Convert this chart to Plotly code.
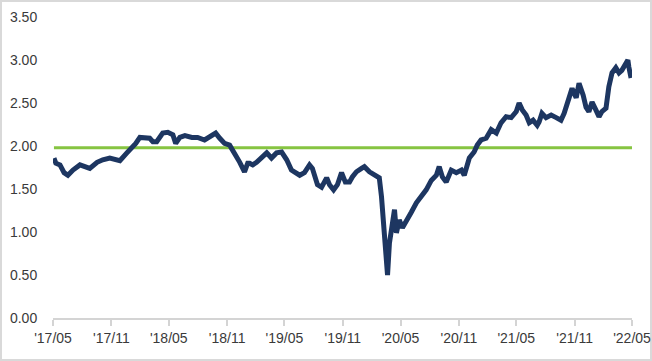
import plotly.graph_objects as go

dates = [
    "2017-05-04", "2017-05-10", "2017-05-23", "2017-06-05", "2017-06-17", "2017-07-03",
    "2017-07-25", "2017-08-10", "2017-08-25", "2017-09-17", "2017-10-05", "2017-10-27",
    "2017-11-12", "2017-11-28", "2017-12-20", "2018-01-05", "2018-01-17", "2018-01-30",
    "2018-02-15", "2018-03-02", "2018-03-12", "2018-03-24", "2018-04-12", "2018-04-28",
    "2018-05-14", "2018-05-23", "2018-06-05", "2018-06-21", "2018-07-13", "2018-07-31",
    "2018-08-22", "2018-09-07", "2018-09-26", "2018-10-09", "2018-10-24", "2018-11-09",
    "2018-11-25", "2018-12-11", "2018-12-26", "2019-01-05", "2019-01-11", "2019-01-21",
    "2019-02-02", "2019-02-18", "2019-03-06", "2019-03-21", "2019-04-06", "2019-04-22",
    "2019-05-08", "2019-05-23", "2019-06-08", "2019-06-18", "2019-07-03", "2019-07-19",
    "2019-07-28", "2019-08-13", "2019-08-26", "2019-09-11", "2019-09-20", "2019-10-03",
    "2019-10-15", "2019-10-28", "2019-11-09", "2019-11-22", "2019-12-01", "2019-12-14",
    "2019-12-30", "2020-01-08", "2020-01-24", "2020-02-09", "2020-02-24", "2020-03-02",
    "2020-03-08", "2020-03-14", "2020-03-17", "2020-03-21", "2020-03-27", "2020-04-02",
    "2020-04-12", "2020-04-18", "2020-04-27", "2020-05-07", "2020-05-19", "2020-06-04",
    "2020-06-20", "2020-07-06", "2020-07-21", "2020-08-06", "2020-08-22", "2020-08-31",
    "2020-09-10", "2020-09-22", "2020-10-08", "2020-10-24", "2020-11-09", "2020-11-18",
    "2020-12-04", "2020-12-19", "2020-12-29", "2021-01-10", "2021-01-26", "2021-02-11",
    "2021-02-27", "2021-03-14", "2021-03-30", "2021-04-15", "2021-05-01", "2021-05-10",
    "2021-05-20", "2021-06-01", "2021-06-11", "2021-06-23", "2021-07-06", "2021-07-12",
    "2021-07-21", "2021-08-03", "2021-08-19", "2021-09-04", "2021-09-19", "2021-09-29",
    "2021-10-15", "2021-10-24", "2021-11-06", "2021-11-15", "2021-11-28", "2021-12-07",
    "2021-12-16", "2021-12-26", "2022-01-07", "2022-01-17", "2022-01-26", "2022-02-08",
    "2022-02-17", "2022-02-27", "2022-03-11", "2022-03-21", "2022-03-30", "2022-04-12",
    "2022-04-18", "2022-04-21", "2022-04-28",
]
values = [
    1.86, 1.80, 1.78, 1.69, 1.66, 1.72,
    1.78, 1.76, 1.74, 1.81, 1.84, 1.86,
    1.84, 1.83, 1.92, 1.98, 2.03, 2.10,
    2.09, 2.09, 2.05, 2.05, 2.15, 2.16,
    2.13, 2.03, 2.10, 2.12, 2.10, 2.10,
    2.07, 2.10, 2.15, 2.09, 2.03, 2.01,
    1.92, 1.81, 1.70, 1.80, 1.80, 1.78,
    1.81, 1.87, 1.92, 1.86, 1.92, 1.93,
    1.84, 1.72, 1.69, 1.66, 1.69, 1.78,
    1.74, 1.55, 1.52, 1.63, 1.55, 1.49,
    1.55, 1.69, 1.58, 1.58, 1.64, 1.70,
    1.74, 1.76, 1.70, 1.66, 1.63, 1.41,
    1.10, 0.91, 0.67, 0.50, 0.87, 1.02,
    1.26, 0.99, 1.14, 1.05, 1.12, 1.23,
    1.34, 1.41, 1.49, 1.60, 1.66, 1.76,
    1.64, 1.58, 1.72, 1.69, 1.72, 1.66,
    1.86, 1.93, 2.01, 2.07, 2.09, 2.19,
    2.15, 2.27, 2.34, 2.33, 2.40, 2.50,
    2.42, 2.36, 2.27, 2.30, 2.24, 2.28,
    2.38, 2.33, 2.36, 2.33, 2.30, 2.38,
    2.56, 2.67, 2.56, 2.73, 2.59, 2.45,
    2.40, 2.51, 2.42, 2.34, 2.40, 2.44,
    2.69, 2.85, 2.91, 2.85, 2.88, 2.97,
    3.00, 2.92, 2.79,
]

ref_dates = ["2017-05-04", "2022-05-01"]
ref_values = [1.98, 1.98]

tick_dates = ["2017-05-01", "2017-11-01", "2018-05-01", "2018-11-01", "2019-05-01",
              "2019-11-01", "2020-05-01", "2020-11-01", "2021-05-01", "2021-11-01",
              "2022-05-01"]
tick_labels = ["'17/05", "'17/11", "'18/05", "'18/11", "'19/05", "'19/11",
               "'20/05", "'20/11", "'21/05", "'21/11", "'22/05"]
y_ticks = [0, 0.5, 1.0, 1.5, 2.0, 2.5, 3.0, 3.5]

fig = go.Figure()
fig.add_trace(go.Scatter(x=ref_dates, y=ref_values, mode="lines",
                         line=dict(color="#86c441", width=3), hoverinfo="skip"))
fig.add_trace(go.Scatter(x=dates, y=values, mode="lines",
                         line=dict(color="#1d3661", width=5)))

W, H = 652, 361
ml, mr, mt, mb = 53, 20, 17, 43
pw, ph = W - ml - mr, H - mt - mb

fig.update_layout(
    width=W, height=H,
    margin=dict(l=ml, r=mr, t=mt, b=mb, autoexpand=False),
    paper_bgcolor="white", plot_bgcolor="white",
    showlegend=False,
    font=dict(family="Liberation Sans, Arial, sans-serif", size=14, color="#3a3a3a"),
    xaxis=dict(
        type="date", range=["2017-05-01", "2022-05-01"], automargin=False,
        tickvals=tick_dates, ticktext=tick_labels,
        showgrid=False, zeroline=False,
        showline=True, linecolor="#d4d4d4", linewidth=1.5,
        ticks="outside", ticklen=6, tickcolor="#d4d4d4", tickwidth=1.5,
        tickfont=dict(size=14, color="#3a3a3a"),
    ),
    yaxis=dict(
        range=[0, 3.5], tickvals=y_ticks, tickformat=".2f", automargin=False,
        showgrid=False, zeroline=False, showline=False,
        ticks="outside", ticklen=12, tickcolor="rgba(0,0,0,0)",
        tickfont=dict(size=14, color="#3a3a3a"),
    ),
    shapes=[dict(
        type="rect", xref="paper", yref="paper",
        x0=(1 - ml) / pw, x1=(W - 1 - ml) / pw,
        y0=(H - mb - (H - 1)) / ph, y1=(H - mb - 1) / ph,
        line=dict(color="#d9d9d9", width=2), fillcolor="rgba(0,0,0,0)",
        layer="below",
    )],
)

fig.write_html("out.html", config={"displayModeBar": False},
               post_script="document.body.style.margin='0';document.body.style.overflow='hidden';")
